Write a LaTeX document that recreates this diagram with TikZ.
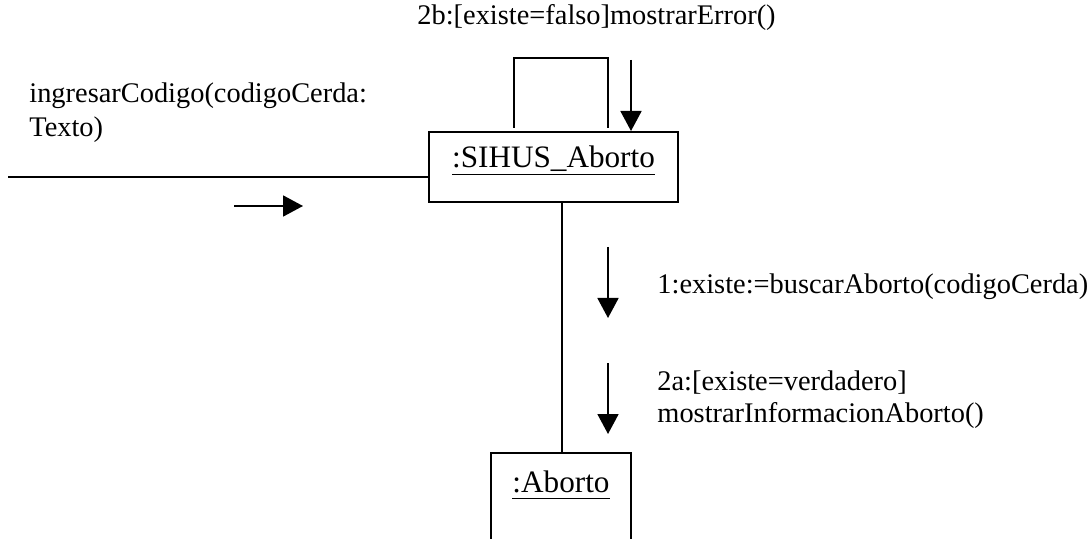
\documentclass[tikz,border=0pt]{standalone}
\usepackage{fontspec}
\setmainfont{Liberation Serif}
\usetikzlibrary{arrows.meta,calc}
\newcommand\ulbox[1]{\setbox0\hbox{#1}\rlap{\rule[-3.6pt]{\wd0}{0.8pt}}\box0}
\tikzset{
  obj/.style={draw,line width=0.9pt,inner sep=0pt,anchor=center,font=\fontsize{15.6}{18}\selectfont},
  lbl/.style={inner sep=0pt,anchor=base west,align=left},
  msg/.style={line width=0.9pt,-{Triangle[length=10pt,width=10.5pt]}},
  lnk/.style={line width=0.9pt},
}
\begin{document}
\begin{tikzpicture}[x=0.5pt,y=-0.5pt,font=\fontsize{14.2}{17}\selectfont]
\useasboundingbox (0,0) rectangle (1090,539);
% objects
\node[obj,minimum width=124.5pt,text height=18pt,text depth=17pt] (sihus) at (553.5,167) {\ulbox{:SIHUS\_Aborto}};
\node[obj,minimum width=70pt,text height=19.5pt,text depth=25.5pt] (aborto) at (561,498) {\ulbox{:Aborto}};
% links
\coordinate (lstart) at (8,177);
\draw[lnk] (lstart) -- (lstart -| sihus.west);
\coordinate (vtop) at ($(sihus.south)+(8.5,0)$);
\draw[lnk] (vtop) -- (vtop |- aborto.north);
\coordinate (loopa) at (514,128);
\coordinate (loopb) at (608,128);
\draw[lnk] (loopa) -- (514,58) -- (608,58) -- (loopb);
% message arrows
\coordinate (m0s) at (234,206); \coordinate (m0e) at (303,206);
\draw[msg] (m0s) -- (m0e);
\coordinate (m2bs) at (631,60); \coordinate (m2be) at (631,131);
\draw[msg] (m2bs) -- (m2be);
\coordinate (m1s) at (608,247); \coordinate (m1e) at (608,318);
\draw[msg] (m1s) -- (m1e);
\coordinate (m2as) at (608,363); \coordinate (m2ae) at (608,434);
\draw[msg] (m2as) -- (m2ae);
% labels
\node[lbl] (t2b) at (417,25) {2b:[existe=falso]mostrarError()};
\node[lbl] (t0a) at (29,103) {ingresarCodigo(codigoCerda:};
\node[lbl] (t0b) at (29,137) {Texto)};
\node[lbl] (t1) at (657,293) {1:existe:=buscarAborto(codigoCerda)};
\node[lbl] (t2a) at (657,390) {2a:[existe=verdadero]};
\node[lbl] (t2c) at (657,422) {mostrarInformacionAborto()};
\end{tikzpicture}
\end{document}
